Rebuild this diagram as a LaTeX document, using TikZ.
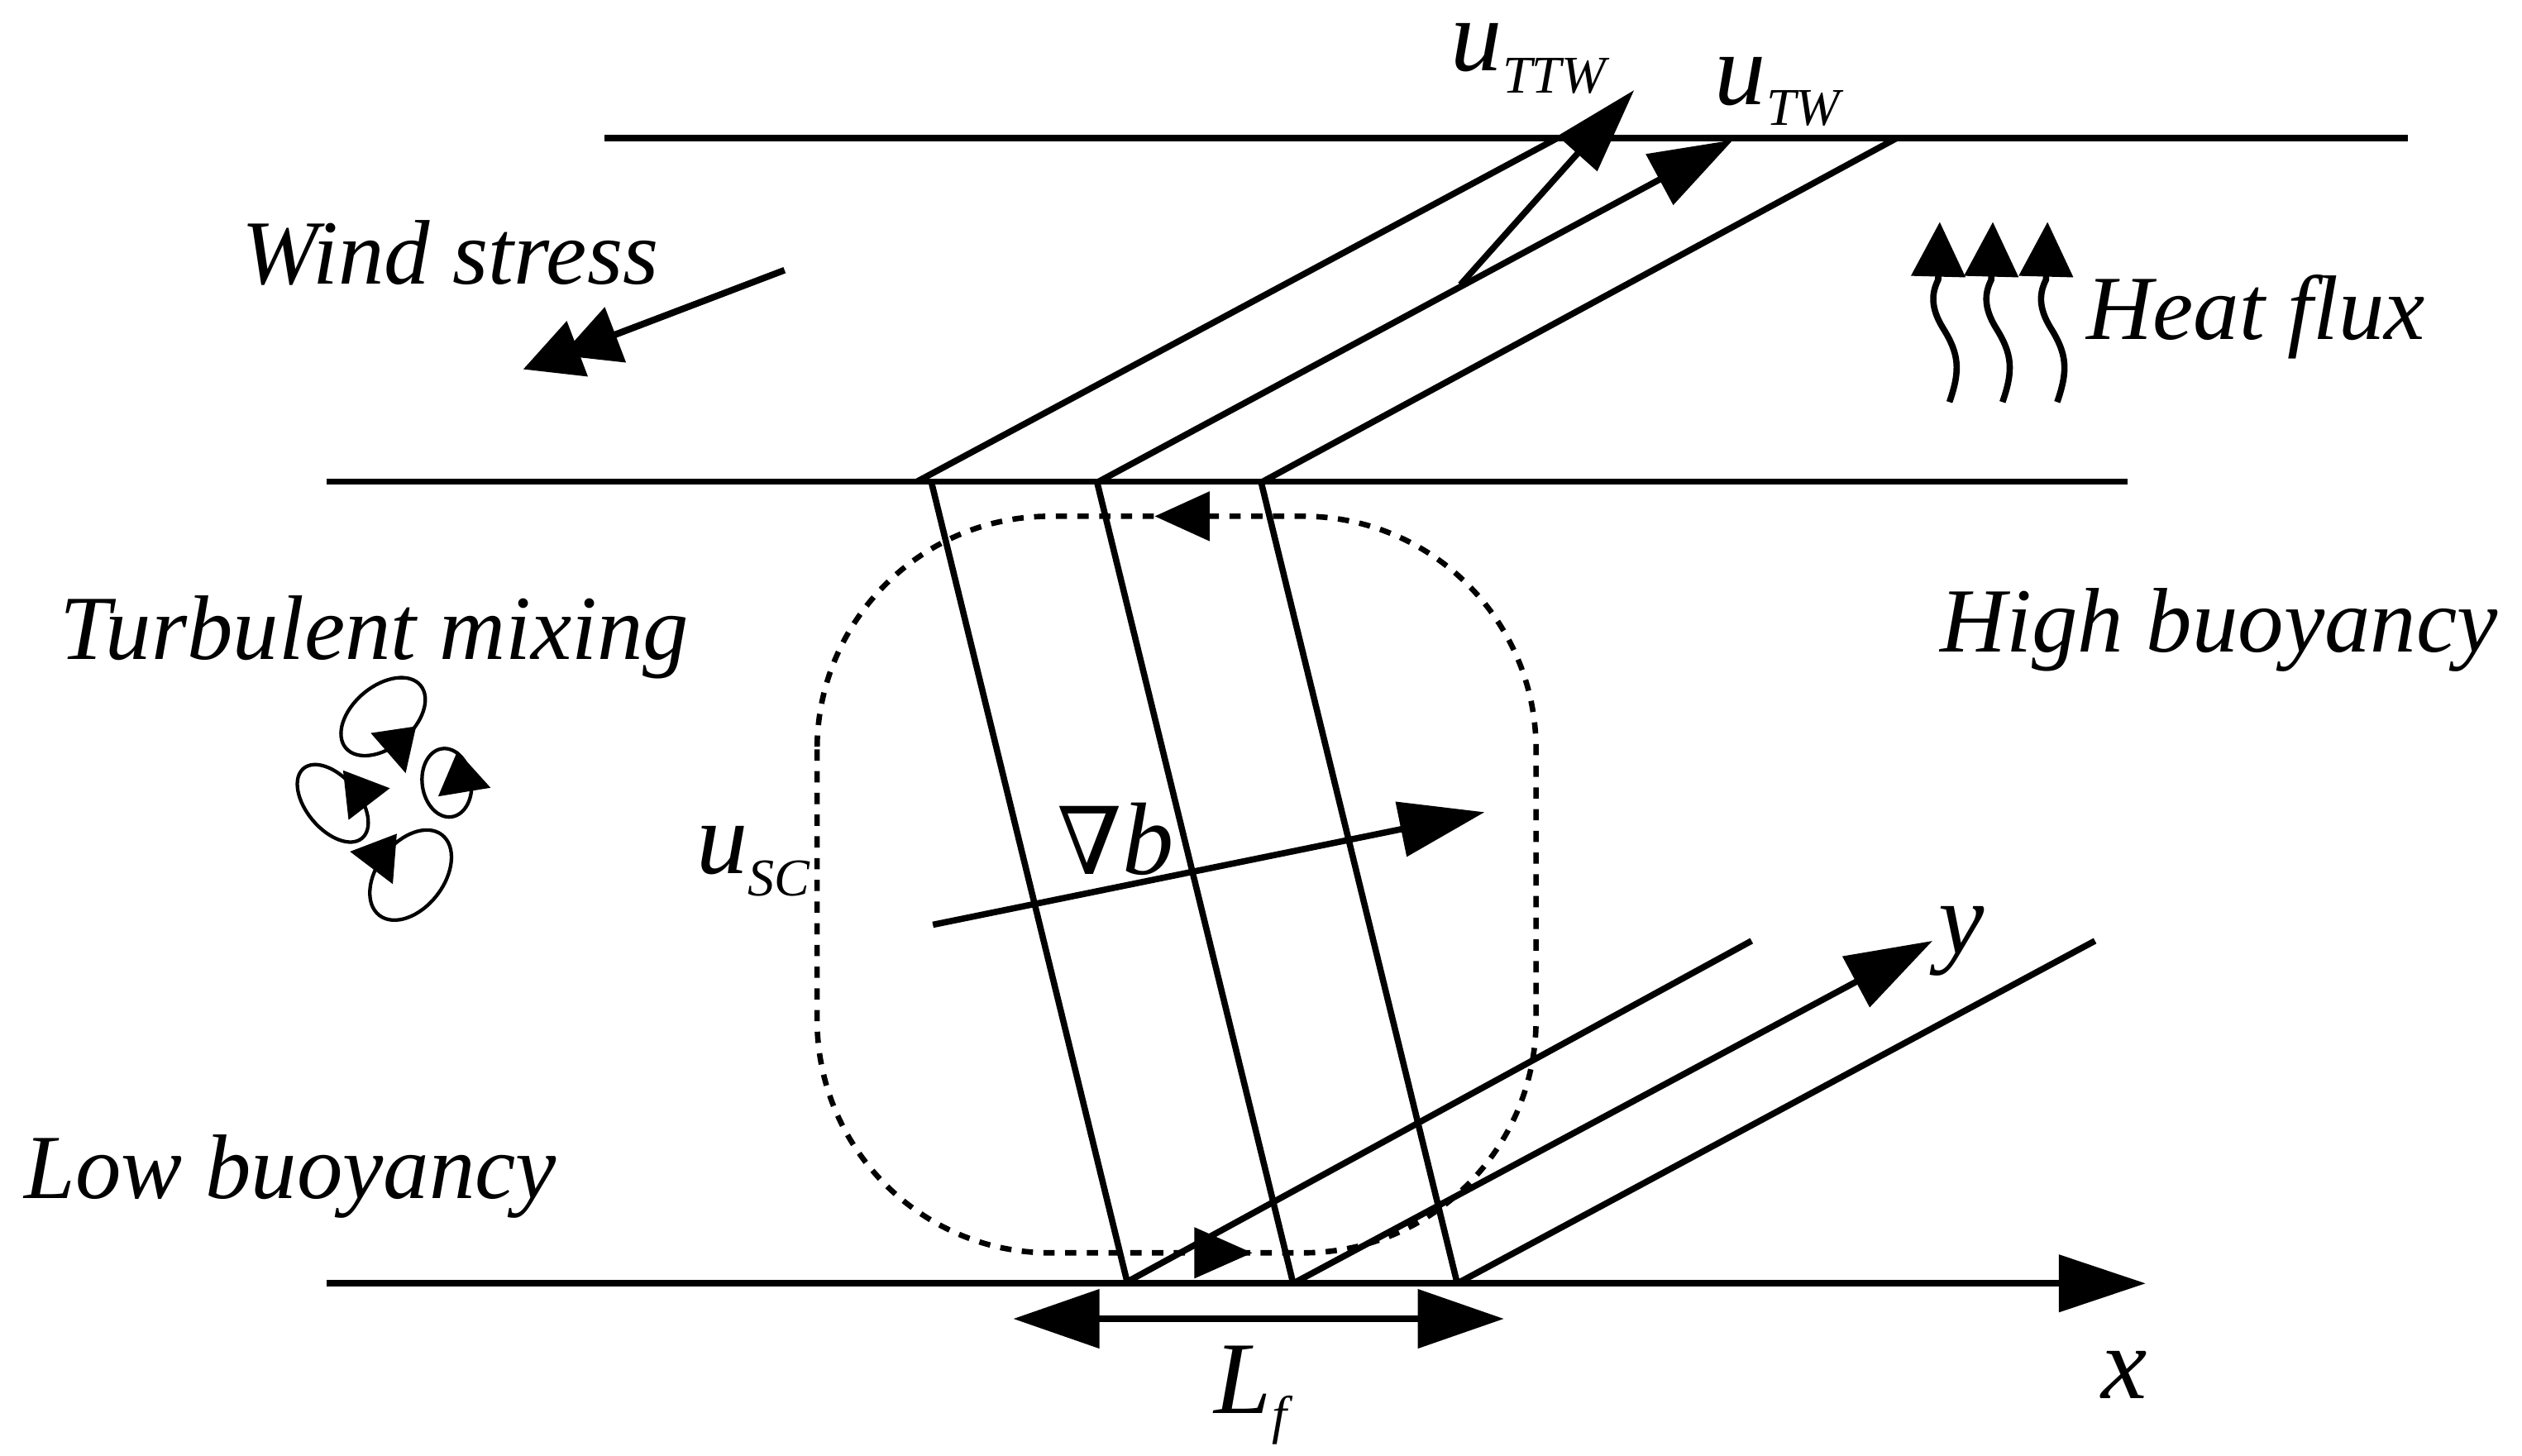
\documentclass[tikz,border=0pt]{standalone}
\usepackage{fontspec}
\setmainfont{Liberation Serif}
\newfontfamily\nablafont{DejaVu Serif}
\usetikzlibrary{arrows.meta}
\newcommand{\lowsub}[2]{\raisebox{#1}{\fontsize{33}{35}\selectfont\itshape #2}}
\begin{document}
\begin{tikzpicture}[x=1pt,y=-1pt,
  solidln/.style={line width=3.9pt},
  bigarrow/.style={solidln,-{Triangle[length=54pt,width=35pt]}},
  eddy/.style={line width=2.2pt},
  txt/.style={font=\fontsize{57}{60}\selectfont\itshape, inner sep=0pt, anchor=base west},
  mth/.style={font=\fontsize{64}{66}\selectfont\itshape, inner sep=0pt, anchor=base west},
  loop/.style={line width=3.4pt, dash pattern=on 7pt off 6.5pt, rounded corners=145pt}]
\path[use as bounding box] (0,0) rectangle (1568,905.3);

% layers
\draw[solidln] (376,86) -- (1497,86);
\draw[solidln] (203,299.5) -- (1323,299.5);
\draw[bigarrow] (203,798) -- (1334,798);

% upper (surface) diagonals
\draw[solidln] (570,299.5) -- (968,86);
\draw[solidln,-{Triangle[length=52pt,width=35pt]}] (683,299.5) -- (1077.5,87);
\draw[solidln] (785,299.5) -- (1179,86);
\draw[solidln,-{Triangle[length=53pt,width=32pt]}] (908,177) -- (1016,56);

% steep front lines
\draw[solidln] (579,299.5) -- (701,798);
\draw[solidln] (682,299.5) -- (804,798);
\draw[solidln] (784,299.5) -- (906,798);

% lower diagonals
\draw[solidln] (699,798) -- (1089,585);
\draw[bigarrow] (804,798) -- (1201.5,585);
\draw[solidln] (906,798) -- (1302.5,585);

% grad b arrow
\draw[solidln,-{Triangle[length=53pt,width=34pt]}] (580,575) -- (923,505);

% L_f double arrow
\draw[solidln,{Triangle[length=53.5pt,width=36pt]}-{Triangle[length=53.5pt,width=36pt]}] (630,820) -- (935,820);

% secondary circulation loop
\draw[loop] (508,321) rectangle (955,779);
\fill (718,321) -- (752,305.5) -- (752,336.5) -- cycle;
\fill (778.5,779) -- (742.5,763) -- (742.5,795) -- cycle;

% wind stress arrow
\draw[solidln,-{Triangle[length=36pt,width=36pt]}] (487.7,168) -- (325.3,229.6);
\draw[solidln,-{Triangle[length=36pt,width=36pt]}] (487.7,168) -- (349,221);

% heat flux arrows
\foreach \t in {1206,1239,1273} {
  \draw[solidln,-{Triangle[length=34pt,width=33pt]}] (\t+6,250) .. controls (\t+13,230) and (\t+12,220) .. (\t+2,204) .. controls (\t-6,191) and (\t-5,182) .. (\t-1,174) -- (\t,138);
}

% eddies
\draw[eddy,rotate around={40:(238.2,445.6)}] (238.2,445.6) ellipse [x radius=30.3pt, y radius=18.9pt];
\draw[eddy,rotate around={-50:(206.9,499.5)}] (206.9,499.5) ellipse [x radius=28.3pt, y radius=16.3pt];
\draw[eddy,rotate around={8:(277.8,486.7)}] (277.8,486.7) ellipse [x radius=15.3pt, y radius=21.4pt];
\draw[eddy,rotate around={52:(255.3,544.1)}] (255.3,544.1) ellipse [x radius=31.7pt, y radius=20.6pt];
\fill (230.5,455.8) -- (258.7,451.6) -- (252.2,480.7) -- cycle;
\fill (213.3,479) -- (242.4,490.1) -- (216.7,509.8) -- cycle;
\fill (272.4,495.2) -- (284.4,467) -- (305,489.8) -- cycle;
\fill (217.6,529.5) -- (246.7,518.4) -- (244.2,549.7) -- cycle;

% texts
\node[txt] (wind) at (150,176.5) {Wind stress};
\node[txt] (heat) at (1297,211) {Heat flux};
\node[txt] (turb) at (37,410) {Turbulent mixing};
\node[txt] (high) at (1206,405.3) {High buoyancy};
\node[txt] (low) at (15,745.4) {Low buoyancy};

\node[mth] (uttw) at (902,44) {u\lowsub{-14pt}{TTW}};
\node[mth] (utw) at (1066,65) {u\lowsub{-13pt}{TW}};
\node[mth] (usc) at (433,543) {u\lowsub{-14pt}{SC}};
\node[mth] (gradb) at (657,543.5) {{\nablafont\upshape\fontsize{58}{60}\selectfont ∇}b};
\node[mth] (lf) at (755,879) {L\lowsub{-12pt}{f}};
\node[mth] (xlab) at (1306.6,869.7) {x};
\node[mth] (ylab) at (1205,593) {y};
\end{tikzpicture}
\end{document}
